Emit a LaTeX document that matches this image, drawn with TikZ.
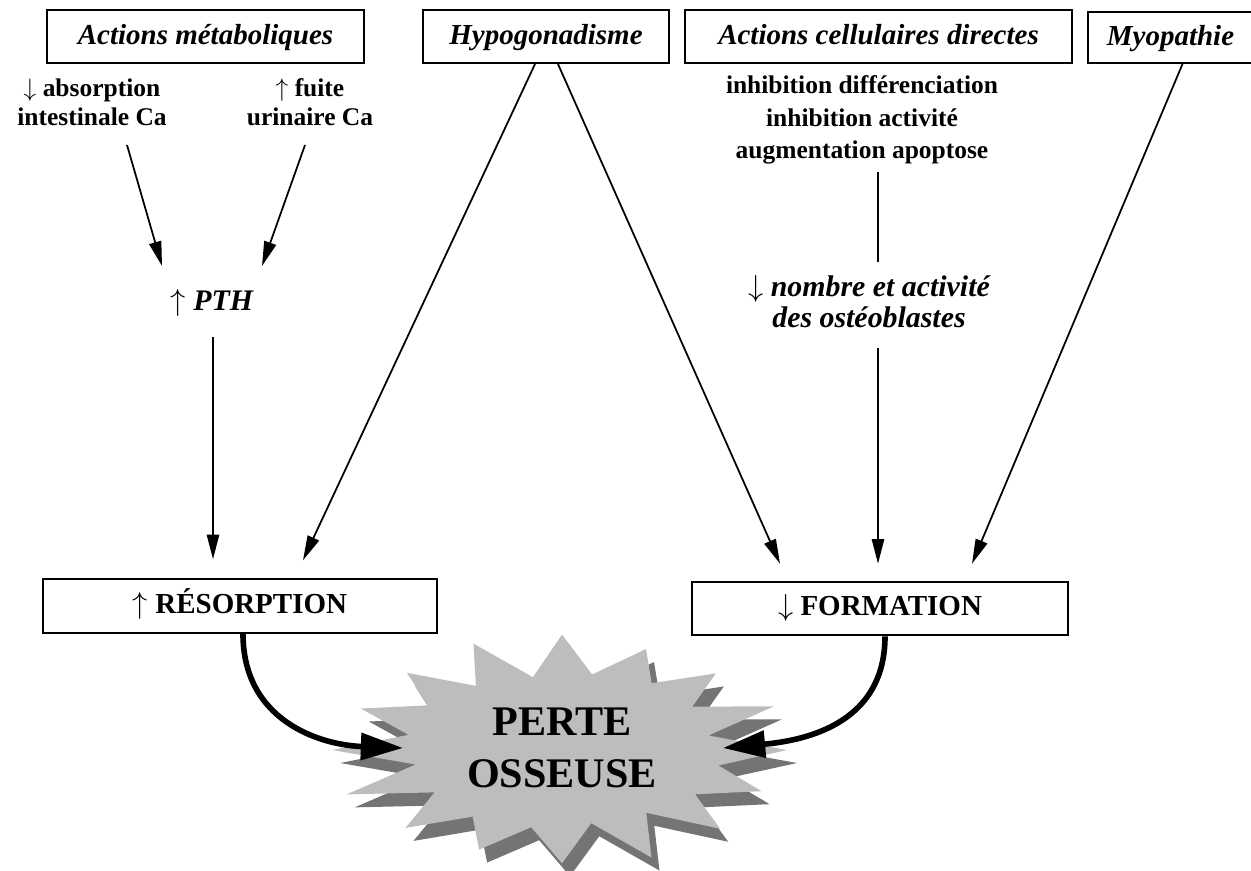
\documentclass[tikz,border=0pt]{standalone}
\usepackage{fontspec}
\setmainfont{Liberation Serif}
\usetikzlibrary{arrows.meta,calc}
\definecolor{stargray}{HTML}{BDBDBD}
\definecolor{shadegray}{HTML}{747474}
\newcommand{\upar}{$\uparrow$}
\newcommand{\dnar}{$\downarrow$}
\begin{document}
\begin{tikzpicture}[x=0.02cm,y=-0.02cm,
  hdr/.style={draw, line width=1.2pt, inner sep=0pt, minimum height=1.06cm,
    text height=0.9em, text depth=0em,
    font=\fontsize{16.5}{20}\selectfont\bfseries\itshape},
  res/.style={draw, line width=1.2pt, inner sep=0pt, minimum height=1.07cm,
    text height=0.8em, text depth=0em,
    font=\fontsize{16.5}{20}\selectfont\bfseries},
  body/.style={align=center, inner sep=0pt, font=\fontsize{14.5}{16.5}\selectfont\bfseries},
  ital/.style={align=center, inner sep=0pt, font=\fontsize{17}{17.6}\selectfont\bfseries\itshape},
  arr/.style={line width=1pt, -{Triangle[length=14pt,width=7pt]}},
  plain/.style={line width=1pt},
  big/.style={line width=3.2pt, -{Triangle[length=24pt,width=15pt]}},
  bigtxt/.style={align=center, inner sep=0pt, font=\fontsize{24}{30}\selectfont\bfseries}
]
\clip (0,0) rectangle (1251,871);
\fill[white] (0,0) rectangle (1251,871);

% top boxes
\node[hdr, minimum width=6.34cm] (metab) at (205.5,36.5) {Actions métaboliques};
\node[hdr, minimum width=4.92cm] (hypo) at (546,36.5) {Hypogonadisme};
\node[hdr, minimum width=7.74cm] (cell) at (878.5,36.5) {Actions cellulaires directes};
\node[hdr, minimum width=3.30cm, minimum height=1.02cm] (myo) at (1170.5,37.5) {Myopathie};

% texts
\node[body] (absorp) at (92,102) {\dnar\ absorption\\intestinale Ca};
\node[body] (fuite) at (310,102) {\upar\ fuite\\urinaire Ca};
\node[ital] (pth) at (212,303) {\upar\ PTH};
\node[body, font=\fontsize{14.5}{18.5}\selectfont\bfseries] (cellfx) at (862,120)
  {inhibition différenciation\\inhibition activité\\augmentation apoptose};
\node[ital] (osteo) at (869,302) {\dnar\ nombre et activité\\des ostéoblastes};

% bottom boxes
\node[res, minimum width=7.88cm] (resorp) at (240,606) {\upar\ RÉSORPTION};
\node[res, minimum width=7.52cm] (form) at (880,608.5) {\dnar\ FORMATION};

% starburst
\fill[shadegray] (797,763) \foreach \k [evaluate=\k as \r using {(1-0.31*mod(\k,2))*(1+0.04*sin(\k*137))}] in {1,...,31}
  { -- ({570+225*\r*cos(\k*11.25)},{763+112*\r*sin(\k*11.25)}) } -- cycle;
\fill[stargray] (787,750) \foreach \k [evaluate=\k as \r using {(1-0.31*mod(\k,2))*(1+0.04*sin(\k*137))}] in {1,...,31}
  { -- ({562+225*\r*cos(\k*11.25)},{750+112*\r*sin(\k*11.25)}) } -- cycle;
\node[bigtxt] (perte) at (562,748) {PERTE\\OSSEUSE};

% connectors
\draw[arr] ($(absorp.center)+(35,43)$) -- ($(pth.center)+(-50,-37)$);
\draw[arr] ($(fuite.center)+(-5,43)$) -- ($(pth.center)+(50,-37)$);
\draw[arr] ($(pth.center)+(1,34)$) -- ($(resorp.north)+(-27,-19)$);
\draw[arr] ($(hypo.south)+(-11,0)$) -- ($(resorp.north)+(63,-18)$);
\draw[arr] ($(hypo.south)+(12,0)$) -- ($(form.north)+(-100,-17)$);
\draw[plain] ($(cellfx.center)+(16,52)$) -- ($(osteo.center)+(9,-40)$);
\draw[arr] ($(osteo.center)+(9,46)$) -- ($(form.north)+(-2,-17)$);
\draw[arr] ($(myo.south)+(12,0)$) -- ($(form.north)+(92,-17)$);

\draw[big] ($(resorp.south)+(3,0)$) .. controls +(0,87) and +(-83,-3) .. ($(perte.center)+(-159,0)$);
\draw[big] ($(form.south)+(5,0)$) .. controls +(0,85) and +(87,-8) .. ($(perte.center)+(161,0)$);
\end{tikzpicture}
\end{document}
